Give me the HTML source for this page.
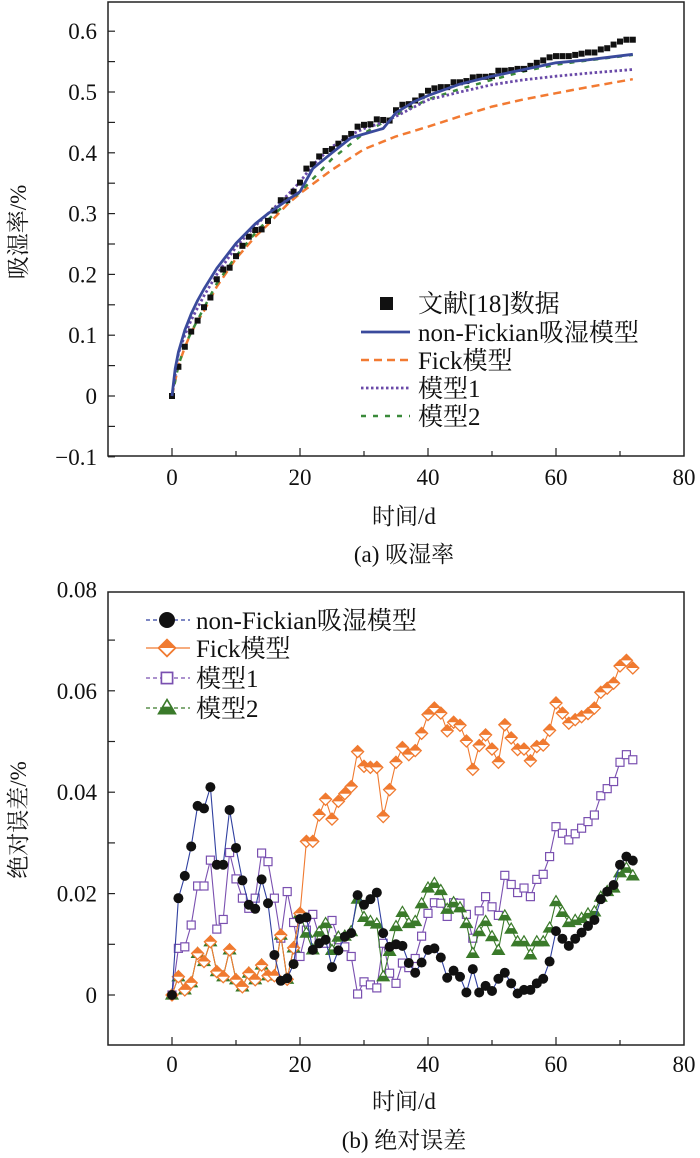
<!DOCTYPE html>
<html><head><meta charset="utf-8"><style>
body{margin:0;background:#fff}
svg{display:block}
text{font-family:"Liberation Serif","Noto Serif CJK SC","Noto Sans CJK SC",serif;fill:#111}
</style></head><body>
<svg id="c" width="700" height="1158" viewBox="0 0 700 1158" xmlns="http://www.w3.org/2000/svg"></svg>
<script>
// ---- chart (a) data ----
const dataDays = [0,1,2,3,4,5,6,7,8,9,10,11,12,13,14,15,16,17,18,19,20,21,22,23,24,25,26,27,28,29,30,31,32,33,34,35,36,37,38,39,40,41,42,43,44,45,46,47,48,49,50,51,52,53,54,55,56,57,58,59,60,61,62,63,64,65,66,67,68,69,70,71,72];
const litData = [0,0.048,0.081,0.106,0.124,0.146,0.162,0.192,0.208,0.211,0.23,0.247,0.262,0.273,0.274,0.288,0.305,0.322,0.322,0.336,0.351,0.374,0.381,0.394,0.403,0.406,0.415,0.424,0.431,0.443,0.446,0.447,0.455,0.454,0.453,0.47,0.479,0.48,0.486,0.493,0.502,0.506,0.508,0.508,0.516,0.516,0.518,0.524,0.525,0.525,0.526,0.535,0.535,0.536,0.538,0.538,0.543,0.548,0.552,0.557,0.559,0.559,0.559,0.561,0.563,0.565,0.565,0.57,0.572,0.578,0.583,0.586,0.586];
const nfDays = [0,0.5,1,2,3,4,5,7,10,13,15,18,20,22,25,28,30,33,35,38,40,45,50,55,60,65,72];
const nfVals = [0,0.045,0.072,0.108,0.135,0.157,0.176,0.21,0.251,0.283,0.30,0.322,0.336,0.374,0.40,0.425,0.431,0.44,0.466,0.485,0.494,0.513,0.526,0.537,0.548,0.553,0.562];
const fkDays = [0,1,2,3,5,7,10,13,15,18,20,25,30,35,40,45,50,55,60,65,72];
const fkVals = [0,0.05,0.08,0.105,0.14,0.18,0.226,0.262,0.282,0.315,0.333,0.372,0.406,0.427,0.443,0.46,0.476,0.488,0.498,0.508,0.521];
const m1Days = [0,1,2,3,5,7,10,13,15,18,20,22,25,28,30,33,35,40,45,50,55,60,65,72];
const m1Vals = [0,0.07,0.1,0.125,0.165,0.2,0.245,0.28,0.30,0.33,0.352,0.38,0.41,0.43,0.44,0.45,0.46,0.487,0.50,0.512,0.52,0.526,0.531,0.537];
const m2Days = [0,1,2,3,5,7,10,13,15,18,20,25,30,35,40,45,50,55,60,65,72];
const m2Vals = [0,0.05,0.082,0.105,0.145,0.185,0.23,0.268,0.29,0.318,0.335,0.39,0.432,0.462,0.488,0.505,0.52,0.534,0.545,0.552,0.561];
const xTicksA = [0,20,40,60,80];
const yTicksA = [-0.1,0,0.1,0.2,0.3,0.4,0.5,0.6];
const yTickLabelsA = ["\u22120.1","0","0.1","0.2","0.3","0.4","0.5","0.6"];
// ---- chart (b) data ----
const errNF = [0,0.0191,0.0235,0.0293,0.0373,0.0368,0.041,0.0257,0.0257,0.0365,0.029,0.0226,0.0178,0.017,0.0228,0.0181,0.0079,0.0028,0.0033,0.0061,0.015,0.0153,0.0089,0.0102,0.0109,0.0055,0.0088,0.0115,0.0122,0.0197,0.0178,0.0189,0.0202,0.0122,0.0095,0.01,0.0097,0.0063,0.0044,0.0064,0.0089,0.0092,0.0074,0.0034,0.0048,0.0036,0.0005,0.0051,0.0005,0.0018,0.0008,0.0032,0.0044,0.0023,0.0003,0.001,0.001,0.0023,0.0032,0.0066,0.0126,0.0111,0.0097,0.0111,0.0123,0.0136,0.0148,0.0189,0.0204,0.0217,0.0257,0.0273,0.0265];
const errFK = [0,0.0036,0.001,0.0024,0.0082,0.0066,0.0105,0.0046,0.0036,0.0089,0.003,0.0016,0.0043,0.003,0.0059,0.0038,0.0038,0.0118,0.0031,0.0093,0.0161,0.0303,0.0303,0.0355,0.0386,0.0347,0.0382,0.0397,0.0411,0.048,0.0451,0.0449,0.0449,0.0352,0.0405,0.0459,0.0488,0.0474,0.0482,0.0516,0.0553,0.0566,0.0556,0.0521,0.0538,0.0532,0.0501,0.0445,0.0492,0.0513,0.0485,0.0459,0.0533,0.0507,0.0484,0.0485,0.0462,0.049,0.0493,0.0522,0.0576,0.0556,0.0536,0.0543,0.0549,0.0555,0.0566,0.0597,0.0605,0.0615,0.0649,0.066,0.0645];
const errM1 = [0,0.0092,0.0095,0.0138,0.0215,0.0215,0.0266,0.013,0.0149,0.0281,0.0229,0.0191,0.0171,0.0191,0.028,0.0263,0.0191,0.0112,0.0204,0.0143,0.0076,0.0128,0.0159,0.0116,0.0102,0.0147,0.0109,0.0095,0.0076,0.0002,0.0026,0.002,0.0014,0.0102,0.0043,0.0023,0.0063,0.0054,0.0072,0.0116,0.0161,0.0182,0.0181,0.0155,0.0182,0.0181,0.0159,0.0112,0.0166,0.0194,0.0174,0.0157,0.0236,0.0218,0.0202,0.0211,0.0194,0.0228,0.0238,0.0273,0.0332,0.0319,0.0306,0.0318,0.0329,0.0342,0.0355,0.0393,0.0407,0.0421,0.0459,0.0474,0.0464];
const errM2 = [0,0.0036,0.001,0.0024,0.0082,0.0066,0.0105,0.0046,0.0036,0.0089,0.003,0.0016,0.0043,0.003,0.0059,0.0038,0.0038,0.0118,0.0031,0.0093,0.0161,0.0122,0.0089,0.0124,0.0141,0.0088,0.0114,0.0116,0.0125,0.0189,0.0153,0.0145,0.014,0.0036,0.0086,0.0135,0.0163,0.0141,0.0145,0.018,0.0211,0.022,0.0206,0.0169,0.0182,0.0172,0.0141,0.0082,0.0125,0.0145,0.0115,0.0088,0.0156,0.013,0.0105,0.0105,0.0079,0.0105,0.0105,0.0132,0.0184,0.0163,0.0143,0.0147,0.0151,0.016,0.0164,0.0193,0.0204,0.0211,0.0241,0.025,0.0235];
const xTicksB = [0,20,40,60,80];
const yTicksB = [0,0.02,0.04,0.06,0.08];

const NS='http://www.w3.org/2000/svg';
const svg=document.getElementById('c');
function mk(tag,attrs,parent){const e=document.createElementNS(NS,tag);for(const k in attrs)e.setAttribute(k,attrs[k]);(parent||svg).appendChild(e);return e;}
function txt(s,x,y,size,anchor,parent){const t=mk('text',{x:x,y:y,'font-size':size,'text-anchor':anchor||'middle'},parent);t.textContent=s;return t;}

const L=108,R=684;
const sx=d=>L+(d+10)*(R-L)/90;
const Atop=2,Abot=456;
const syA=v=>396-v*608;
const Btop=592,Bbot=1045;
const syB=v=>995-v*5070;
const FS=23, LFS=25;

// ---------- Chart A ----------
const gA=mk('g',{});


const frA=mk('rect',{x:L,y:Atop,width:R-L,height:Abot-Atop,fill:'none',stroke:'#222','stroke-width':1.5},gA);


for(let d=0;d<=70;d+=10){mk('line',{x1:sx(d),x2:sx(d),y1:Abot,y2:Abot-(d%20===0?8:5),stroke:'#222','stroke-width':1.2},gA);}
for(let i=-2;i<=12;i++){const v=i*0.05;mk('line',{x1:L,x2:L+7,y1:syA(v),y2:syA(v),stroke:'#222','stroke-width':1.2},gA);}
xTicksA.forEach(d=>{const t=txt(String(d),sx(d),485,FS,'middle',gA);});
yTicksA.forEach((v,i)=>{const t=txt(yTickLabelsA[i],97,syA(v)+8,FS,'end',gA);});
let t=txt('时间/d',404,524,FS,'middle',gA);


t=txt('(a) 吸湿率',404,562,FS,'middle',gA);


t=mk('text',{x:0,y:0,'font-size':FS,'text-anchor':'middle',transform:'translate(26,232) rotate(-90)'},gA);t.textContent='吸湿率/%';



function curve(days,vals,attrs,name){
  const pts=days.map((d,i)=>sx(d).toFixed(1)+','+syA(vals[i]).toFixed(1)).join(' ');
  const p=mk('polyline',Object.assign({points:pts,fill:'none','stroke-linejoin':'round'},attrs),gA);
  
  
}
curve(fkDays,fkVals,{stroke:'#f27a32','stroke-width':2.5,'stroke-dasharray':'8,5'},'fick-model-curve');
curve(m2Days,m2Vals,{stroke:'#3a8a3a','stroke-width':2.5,'stroke-dasharray':'5,7'},'model2-curve');
curve(m1Days,m1Vals,{stroke:'#6a4aa8','stroke-width':2.8,'stroke-dasharray':'2.5,2.5'},'model1-curve');
dataDays.forEach((d,i)=>{const r=mk('rect',{x:sx(d)-3,y:syA(litData[i])-3,width:6,height:6,fill:'#111'},gA);
  
  });
curve(nfDays,nfVals,{stroke:'#3a4a9c','stroke-width':2.8},'non-fickian-curve');

const lgA=mk('g',{},gA);


const rowsA=[303,332,360,388,416];
mk('rect',{x:380,y:rowsA[0]-6,width:13,height:13,fill:'#111'},lgA);
mk('line',{x1:361,x2:410,y1:rowsA[1],y2:rowsA[1],stroke:'#3a4a9c','stroke-width':2.8},lgA);
mk('line',{x1:361,x2:410,y1:rowsA[2],y2:rowsA[2],stroke:'#f27a32','stroke-width':2.5,'stroke-dasharray':'8,5'},lgA);
mk('line',{x1:361,x2:410,y1:rowsA[3],y2:rowsA[3],stroke:'#6a4aa8','stroke-width':2.8,'stroke-dasharray':'2.5,2.5'},lgA);
mk('line',{x1:361,x2:410,y1:rowsA[4],y2:rowsA[4],stroke:'#3a8a3a','stroke-width':2.5,'stroke-dasharray':'5,7'},lgA);
['文献[18]数据','non-Fickian吸湿模型','Fick模型','模型1','模型2'].forEach((s,i)=>{const e=txt(s,418,rowsA[i]+9,LFS,'start',lgA);});

// ---------- Chart B ----------
const gB=mk('g',{});


const frB=mk('rect',{x:L,y:Btop,width:R-L,height:Bbot-Btop,fill:'none',stroke:'#222','stroke-width':1.5},gB);


for(let d=0;d<=70;d+=10){mk('line',{x1:sx(d),x2:sx(d),y1:Bbot,y2:Bbot-(d%20===0?8:5),stroke:'#222','stroke-width':1.2},gB);}
for(let i=0;i<=7;i++){const v=i*0.01;mk('line',{x1:L,x2:L+7,y1:syB(v),y2:syB(v),stroke:'#222','stroke-width':1.2},gB);}
xTicksB.forEach(d=>{const e=txt(String(d),sx(d),1072,FS,'middle',gB);});
yTicksB.forEach(v=>{const e=txt(v===0?'0':v.toFixed(2),97,syB(v)+8,FS,'end',gB);});
t=txt('时间/d',404,1109,FS,'middle',gB);


t=txt('(b) 绝对误差',404,1148,FS,'middle',gB);


t=mk('text',{x:0,y:0,'font-size':FS,'text-anchor':'middle',transform:'translate(26,820) rotate(-90)'},gB);t.textContent='绝对误差/%';



function marker(kind,x,y,col,parent){
  if(kind==='circle'){mk('circle',{cx:x,cy:y,r:5,fill:'#111'},parent);}
  else if(kind==='diamond'){mk('path',{d:`M${x},${y-6}L${x+6},${y}L${x},${y+6}L${x-6},${y}Z`,fill:'#fff',stroke:col,'stroke-width':1.3},parent);
    mk('path',{d:`M${x},${y-6}L${x+6},${y}L${x-6},${y}Z`,fill:col},parent);}
  else if(kind==='square'){mk('rect',{x:x-4,y:y-4,width:8,height:8,fill:'#fff',stroke:col,'stroke-width':1.2},parent);}
  else {mk('path',{d:`M${x},${y-6}L${x+6},${y+4}L${x-6},${y+4}Z`,fill:'#fff',stroke:col,'stroke-width':1.2},parent);
    mk('path',{d:`M${x-3},${y-1}L${x+3},${y-1}L${x+6},${y+4}L${x-6},${y+4}Z`,fill:col},parent);}
}
function series(vals,col,kind,name){
  const g=mk('g',{},gB);
  
  
  const pts=vals.map((v,i)=>sx(dataDays[i]).toFixed(1)+','+syB(v).toFixed(1)).join(' ');
  mk('polyline',{points:pts,fill:'none',stroke:col,'stroke-width':1.1},g);
  vals.forEach((v,i)=>marker(kind,sx(dataDays[i]),syB(v),col,g));
}
series(errM1,'#7a50b0','square','model1-error-series');
series(errM2,'#3a7a2a','triangle','model2-error-series');
series(errFK,'#f07a30','diamond','fick-error-series');
series(errNF,'#3040a0','circle','non-fickian-error-series');

const lgB=mk('g',{},gB);


const rowsB=[620,648,678,708];
const lb=[['#3040a0','circle','non-Fickian吸湿模型','4,3'],['#f07a30','diamond','Fick模型',''],['#7a50b0','square','模型1','4,3'],['#3a7a2a','triangle','模型2','4,3']];
lb.forEach((e,i)=>{
  mk('line',{x1:146,x2:190,y1:rowsB[i],y2:rowsB[i],stroke:e[0],'stroke-width':1.3,'stroke-dasharray':e[3]},lgB);
  const s=e[1]==='circle'?1.6:1.4;
  const mg=mk('g',{transform:`translate(167,${rowsB[i]}) scale(${s})`},lgB);
  marker(e[1],0,0,e[0],mg);
  const tt=txt(e[2],196,rowsB[i]+9,LFS,'start',lgB);
  
  
});
</script>
</body></html>
